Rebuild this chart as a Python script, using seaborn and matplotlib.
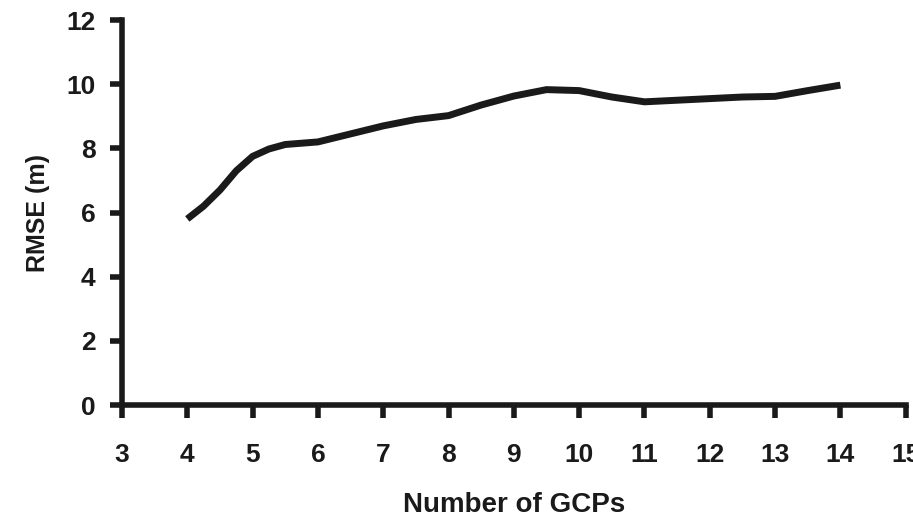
import pandas as pd
import seaborn as sns
import matplotlib.pyplot as plt

# values (integer GCP counts plus a few in-between points)
gcps = [4, 4.25, 4.5, 4.75, 5, 5.25, 5.5, 6, 6.5, 7, 7.5, 8, 8.5, 9, 9.5, 10, 10.5, 11, 11.5, 12, 12.5, 13, 13.5, 14]
rmse = [5.8, 6.2, 6.7, 7.3, 7.75, 7.98, 8.12, 8.2, 8.45, 8.7, 8.9, 9.02, 9.35, 9.63, 9.83, 9.8, 9.6, 9.45, 9.5, 9.55, 9.6, 9.62, 9.8, 9.97]
x_ticks = list(range(3, 16))
y_ticks = [0, 2, 4, 6, 8, 10, 12]

df = pd.DataFrame({"Number of GCPs": gcps, "RMSE (m)": rmse})

sns.set_style("white")
plt.rcParams['font.family'] = ['Liberation Sans', 'DejaVu Sans']
plt.rcParams['font.weight'] = 'bold'

fig = plt.figure(figsize=(9.13, 5.21), dpi=100)
ax = fig.add_axes([0.1336, 0.2226, 0.8584, 0.739])

sns.lineplot(data=df, x="Number of GCPs", y="RMSE (m)", ax=ax,
             color="#1a1a1a", linewidth=5, solid_capstyle="butt",
             solid_joinstyle="round")

ax.set_xlim(3, 15)
ax.set_ylim(0, 12)
ax.set_xticks(x_ticks)
ax.set_yticks(y_ticks)

for s in ["top", "right"]:
    ax.spines[s].set_visible(False)
for s in ["left", "bottom"]:
    ax.spines[s].set_linewidth(4)
    ax.spines[s].set_color("#1a1a1a")

# white style hides the ticks, turn them back on
ax.tick_params(axis="both", bottom=True, left=True, direction="out", length=9, width=4,
               color="#1a1a1a", labelsize=19, labelcolor="#1a1a1a")
ax.tick_params(axis="x", pad=18)
ax.tick_params(axis="y", pad=10)

ax.set_xlabel("Number of GCPs", fontsize=20, fontweight="bold", labelpad=18, color="#1a1a1a")
ax.set_ylabel("RMSE (m)", fontsize=18, fontweight="bold", labelpad=12, color="#1a1a1a")

fig.savefig("out.png", dpi=100)
